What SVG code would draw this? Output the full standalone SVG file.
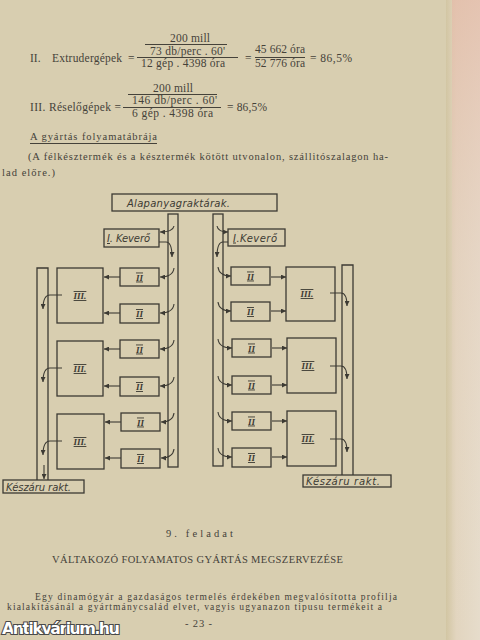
<svg xmlns="http://www.w3.org/2000/svg" width="480" height="640" viewBox="0 0 480 640">
<defs>
<linearGradient id="edge" x1="0" y1="0" x2="1" y2="0">
<stop offset="0" stop-color="#d2c6a3"/>
<stop offset="0.3" stop-color="#e2d5bf"/>
<stop offset="1" stop-color="#e6dccb"/>
</linearGradient>
<linearGradient id="pink" x1="0" y1="0" x2="0" y2="1">
<stop offset="0" stop-color="#e4b9a6" stop-opacity="0.7"/>
<stop offset="0.4" stop-color="#e6cdbd" stop-opacity="0.4"/>
<stop offset="1" stop-color="#e8dccb" stop-opacity="0"/>
</linearGradient>
<marker id="ah" viewBox="0 0 6 6" refX="6" refY="3" markerWidth="5" markerHeight="5" markerUnits="userSpaceOnUse" orient="auto">
<path d="M0,0 L6,3 L0,6 z" fill="#3c3a33"/>
</marker>
<style>
.bg{fill:#d8ceb0}
.t{font-family:"Liberation Serif",serif;fill:#45423a}
.f{font-size:11.5px}
.b{font-size:10.5px}
.bar{stroke:#45423a;stroke-width:1;fill:none}
.box{fill:none;stroke:#3c3a33;stroke-width:1.3}
.lbl{font-family:"DejaVu Sans",sans-serif;font-style:italic;fill:#3c3a33;font-size:10px}
.num{font-family:"Liberation Serif",serif;font-style:italic;font-weight:bold;fill:#3c3a33;font-size:9px;text-decoration:underline overline;text-anchor:middle}
.c{fill:none;stroke:#3c3a33;stroke-width:1.1;marker-end:url(#ah)}
.wm{font-family:"DejaVu Sans",sans-serif;font-weight:bold;font-size:16px;fill:#ffffff;stroke:#4a4a4a;stroke-width:2.2;paint-order:stroke}
</style>
</defs>
<rect class="bg" x="0" y="0" width="480" height="640"/>
<rect x="446" y="0" width="34" height="640" fill="url(#edge)"/>
<rect x="452" y="0" width="28" height="640" fill="url(#pink)"/>

<g id="formulas">
<text class="t f" x="30" y="62">II.</text>
<text class="t f" x="52" y="62" textLength="70">Extrudergépek</text>
<text class="t f" x="128" y="62">=</text>
<text class="t f" x="170" y="42" textLength="40">200 mill</text>
<line class="bar" x1="145" y1="44.5" x2="227" y2="44.5"/>
<text class="t f" x="150" y="55" textLength="75">73 db/perc . 60'</text>
<line class="bar" x1="137" y1="57.5" x2="238" y2="57.5"/>
<text class="t f" x="141" y="66.5" textLength="84">12 gép . 4398 óra</text>
<text class="t f" x="245" y="62">=</text>
<text class="t f" x="255" y="53" textLength="50">45 662 óra</text>
<line class="bar" x1="255" y1="57.5" x2="305" y2="57.5"/>
<text class="t f" x="255" y="66.5" textLength="50">52 776 óra</text>
<text class="t f" x="310" y="62" textLength="42">= 86,5%</text>

<text class="t f" x="30" y="111" textLength="91">III. Réselőgépek =</text>
<text class="t f" x="153" y="92" textLength="40">200 mill</text>
<line class="bar" x1="128" y1="94.5" x2="217" y2="94.5"/>
<text class="t f" x="132" y="104" textLength="85">146 db/perc . 60'</text>
<line class="bar" x1="123" y1="107.5" x2="221" y2="107.5"/>
<text class="t f" x="132" y="116.5" textLength="81">6 gép . 4398 óra</text>
<text class="t f" x="227" y="111" textLength="40">= 86,5%</text>
</g>

<g id="heading">
<text class="t b" x="30" y="140" textLength="127">A gyártás folyamatábrája</text>
<line class="bar" x1="30" y1="143.5" x2="157" y2="143.5"/>
<text class="t b" x="28" y="160" textLength="360">(A félkésztermék és a késztermék kötött  utvonalon, szállitószalagon ha-</text>
<text class="t b" x="2" y="176" textLength="53">lad előre.)</text>
</g>

<g id="alapanyag">
<rect class="box" x="112" y="194" width="165" height="17"/>
<text class="lbl" x="127" y="207" textLength="103">Alapanyagraktárak.</text>
</g>
<g id="szalag-bal"><rect class="box" x="168" y="214" width="10" height="253"/></g>
<g id="szalag-jobb"><rect class="box" x="213" y="214" width="10" height="252"/></g>

<g id="kevero-bal">
<rect class="box" x="104" y="229" width="55" height="18"/>
<text class="lbl" x="107" y="242" textLength="43"><tspan text-decoration="underline">I</tspan>. Keverő</text>
</g>
<g id="kevero-jobb">
<rect class="box" x="228" y="229" width="57" height="17"/>
<text class="lbl" x="233" y="241.5" textLength="44"><tspan text-decoration="underline">I</tspan>.Keverő</text>
</g>

<g id="II-bal-1"><rect class="box" x="120" y="268" width="39" height="18"/><text class="num" x="139.5" y="280.5">II</text></g>
<g id="II-bal-2"><rect class="box" x="120" y="304" width="39" height="19"/><text class="num" x="139.5" y="317">II</text></g>
<g id="II-bal-3"><rect class="box" x="120" y="340" width="39" height="18"/><text class="num" x="139.5" y="352.5">II</text></g>
<g id="II-bal-4"><rect class="box" x="120" y="377" width="39" height="19"/><text class="num" x="139.5" y="390">II</text></g>
<g id="II-bal-5"><rect class="box" x="121" y="413" width="39" height="18"/><text class="num" x="140.5" y="425.5">II</text></g>
<g id="II-bal-6"><rect class="box" x="121" y="449" width="39" height="19"/><text class="num" x="140.5" y="462">II</text></g>

<g id="III-bal-1"><rect class="box" x="57" y="268" width="46" height="55"/><text class="num" x="80" y="299">III.</text></g>
<g id="III-bal-2"><rect class="box" x="57" y="341" width="46" height="55"/><text class="num" x="80" y="372">III.</text></g>
<g id="III-bal-3"><rect class="box" x="57" y="414" width="47" height="55"/><text class="num" x="80" y="445">III.</text></g>

<g id="kimeno-bal"><path class="box" d="M37,480 V268 H48 V480"/></g>
<g id="keszaru-bal">
<rect class="box" x="3" y="480" width="81" height="13"/>
<text class="lbl" x="6" y="490.5" textLength="65">Készáru  rakt.</text>
</g>

<g id="II-jobb-1"><rect class="box" x="231" y="267" width="39" height="18"/><text class="num" x="250.5" y="279.5">II</text></g>
<g id="II-jobb-2"><rect class="box" x="231" y="302" width="39" height="19"/><text class="num" x="250.5" y="315">II</text></g>
<g id="II-jobb-3"><rect class="box" x="232" y="339" width="39" height="18"/><text class="num" x="251.5" y="351.5">II</text></g>
<g id="II-jobb-4"><rect class="box" x="232" y="376" width="39" height="18"/><text class="num" x="251.5" y="388.5">II</text></g>
<g id="II-jobb-5"><rect class="box" x="232" y="412" width="39" height="18"/><text class="num" x="251.5" y="424.5">II</text></g>
<g id="II-jobb-6"><rect class="box" x="232" y="448" width="39" height="19"/><text class="num" x="251.5" y="461">II</text></g>

<g id="III-jobb-1"><rect class="box" x="286" y="267" width="49" height="54"/><text class="num" x="307" y="297">III.</text></g>
<g id="III-jobb-2"><rect class="box" x="287" y="338" width="49" height="55"/><text class="num" x="308" y="369">III.</text></g>
<g id="III-jobb-3"><rect class="box" x="287" y="411" width="49" height="55"/><text class="num" x="308" y="442">III.</text></g>

<g id="kimeno-jobb"><path class="box" d="M342,475 V265 H353 V475"/></g>
<g id="keszaru-jobb">
<rect class="box" x="303" y="475" width="88" height="12"/>
<text class="lbl" x="306" y="485" textLength="74">Készáru   rakt.</text>
</g>

<g id="connectors">
<path class="c" d="M174,226 Q173,232 160,232"/>
<path class="c" d="M159,242 H166 Q172,242 172,257"/>
<path class="c" d="M217,226 Q218,232 228,232"/>
<path class="c" d="M228,242 H223 Q217,242 217,257"/>

<path class="c" d="M174,268 Q173,277 160,277"/>
<path class="c" d="M174,304 Q173,313 160,313"/>
<path class="c" d="M174,340 Q173,349 160,349"/>
<path class="c" d="M174,377 Q173,386 160,386"/>
<path class="c" d="M174,413 Q173,422 161,422"/>
<path class="c" d="M174,449 Q173,458 161,458"/>

<path class="c" d="M218,267 Q219,276 231,276"/>
<path class="c" d="M218,302 Q219,311 231,311"/>
<path class="c" d="M218,339 Q219,348 232,348"/>
<path class="c" d="M218,376 Q219,385 232,385"/>
<path class="c" d="M218,412 Q219,421 232,421"/>
<path class="c" d="M218,448 Q219,457 232,457"/>

<path class="c" d="M120,277 H104"/>
<path class="c" d="M120,313 H104"/>
<path class="c" d="M120,349 H104"/>
<path class="c" d="M120,386 H104"/>
<path class="c" d="M121,422 H105"/>
<path class="c" d="M121,458 H105"/>

<path class="c" d="M271,277 H286"/>
<path class="c" d="M271,311 H286"/>
<path class="c" d="M272,348 H287"/>
<path class="c" d="M272,385 H287"/>
<path class="c" d="M272,421 H287"/>
<path class="c" d="M272,457 H287"/>

<path class="c" d="M62,295 H50 Q43,295 43,309"/>
<path class="c" d="M62,368 H50 Q43,368 43,382"/>
<path class="c" d="M62,441 H50 Q43,441 43,455"/>

<path class="c" d="M330,293 H341 Q347,293 347,306"/>
<path class="c" d="M330,366 H341 Q347,366 347,379"/>
<path class="c" d="M330,439 H341 Q347,439 347,452"/>

<path class="c" d="M44,465 V479"/>
</g>

<g id="footer">
<text class="t b" x="166" y="537" textLength="67">9. feladat</text>
<text class="t b" x="52" y="563" textLength="291">VÁLTAKOZÓ FOLYAMATOS GYÁRTÁS MEGSZERVEZÉSE</text>
<text class="t" font-size="9.5" x="35" y="600" textLength="362">Egy dinamógyár a gazdaságos termelés érdekében megvalósította profilja</text>
<text class="t" font-size="9.5" x="7" y="609.5" textLength="375">kialakításánál a gyártmánycsalád elvet, vagyis ugyanazon tipusu termékeit a</text>
<text class="t b" x="185" y="627" textLength="27">- 23 -</text>
<text class="wm" x="2" y="634" textLength="118">Antikvárium.hu</text>
</g>
</svg>
